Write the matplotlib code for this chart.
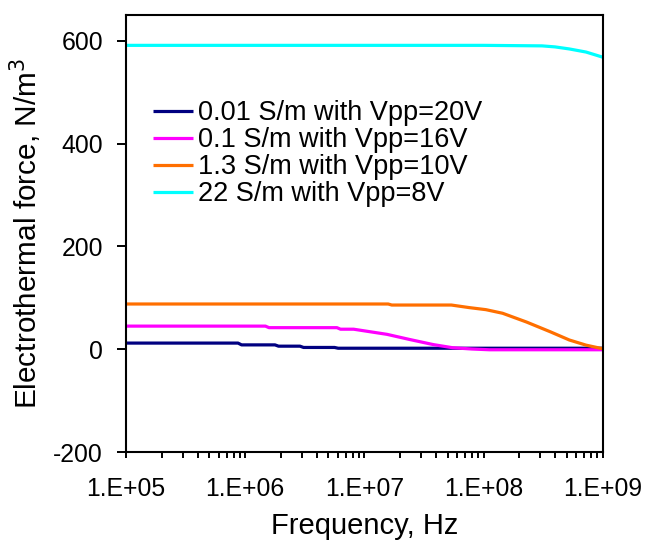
import matplotlib
matplotlib.use("Agg")
import matplotlib.pyplot as plt
from matplotlib.ticker import LogLocator, FixedLocator, NullFormatter
import numpy as np

plt.rcParams['font.family'] = ['Liberation Sans', 'DejaVu Sans']
plt.rcParams['axes.unicode_minus'] = False

# log10 of frequency (Hz) and force (N/m^3) for each conductivity
logf_001 = [5.0, 5.94, 5.97, 6.25, 6.28, 6.46, 6.49, 6.75, 6.78, 7.5, 8.0, 8.5, 9.0]
force_001 = [12, 12, 8.5, 8.5, 6, 6, 3.5, 3.5, 2, 2, 2, 2, 2]

logf_01 = [5.0, 6.17, 6.2, 6.77, 6.8, 6.91, 7.05, 7.19, 7.38, 7.58, 7.74, 7.9, 8.05, 8.5, 9.0]
force_01 = [45, 45, 42, 42, 39, 39, 34, 29, 19, 9, 3, 0.5, -1, -1, -1]

logf_13 = [5.0, 7.2, 7.23, 7.73, 7.88, 8.02, 8.16, 8.36, 8.56, 8.72, 8.86, 9.0]
force_13 = [88, 88, 86, 86, 81, 77, 70, 53, 34, 18, 8, 1]

logf_22 = [5.0, 6.0, 7.0, 8.0, 8.49, 8.6, 8.72, 8.86, 9.0]
force_22 = [591, 591, 591, 591, 590, 588, 584, 578, 568]

labels = ["0.01 S/m with Vpp=20V", "0.1 S/m with Vpp=16V",
          "1.3 S/m with Vpp=10V", "22 S/m with Vpp=8V"]
colors = ["#000080", "#FF00FF", "#FF6F00", "#00FFFF"]

x_ticks = [1e5, 1e6, 1e7, 1e8, 1e9]
x_ticklabels = ["1.E+05", "1.E+06", "1.E+07", "1.E+08", "1.E+09"]
y_ticks = [-200, 0, 200, 400, 600]

fig = plt.figure(figsize=(6.46, 5.48), dpi=100)
ax = fig.add_axes([0.195, 0.175, 0.738, 0.7976])

series = [(logf_001, force_001), (logf_01, force_01),
          (logf_13, force_13), (logf_22, force_22)]
for (lf, fv), lab, c in zip(series, labels, colors):
    ax.plot(10 ** np.array(lf), fv, color=c, lw=2.3, label=lab,
            solid_capstyle='butt')

ax.set_xscale('log')
ax.set_xlim(1e5, 1e9)
ax.set_ylim(-200, 650)
ax.xaxis.set_major_locator(FixedLocator(x_ticks))
ax.set_xticklabels(x_ticklabels)
ax.xaxis.set_minor_locator(LogLocator(base=10, subs=np.arange(2, 10)))
ax.xaxis.set_minor_formatter(NullFormatter())
ax.set_yticks(y_ticks)

for s in ax.spines.values():
    s.set_linewidth(1.5)
    s.set_color('black')

ax.tick_params(axis='x', which='both', direction='out', length=4.5, width=1.4,
               labelsize=17.8, pad=13.5)
ax.tick_params(axis='y', which='major', direction='out', length=6.5, width=1.4,
               labelsize=17.8, pad=10)

ax.set_xlabel("Frequency, Hz", fontsize=21, labelpad=8)
ax.set_ylabel("Electrothermal force, N/m$^3$", fontsize=21.4, labelpad=6.5)

ax.legend(loc='upper left', bbox_to_anchor=(0.057, 0.805), frameon=False,
          fontsize=19.5, handlelength=1.46, handletextpad=0.18,
          labelspacing=0.04, borderpad=0, borderaxespad=0)

fig.savefig("out.png", dpi=100)
